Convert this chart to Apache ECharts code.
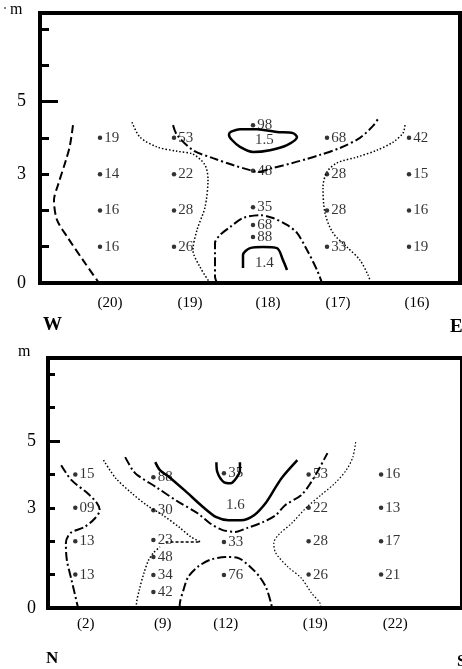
<!DOCTYPE html>
<html>
<head>
<meta charset="utf-8">
<script src="https://cdn.jsdelivr.net/npm/echarts@6/dist/echarts.min.js"></script>
<style>
html, body { margin: 0; padding: 0; background: #fff; }
#chart { width: 462px; height: 669px; }
</style>
</head>
<body>
<div id="chart"></div>
<script>
// two cross sections (W-E above, N-S below); x = distance along section, y = depth in m
const topTickPos = [70, 150, 228, 298, 377]
const topTickText = ['(20)', '(19)', '(18)', '(17)', '(16)']
const botTickPos = [40, 122, 189, 284, 369]
const botTickText = ['(2)', '(9)', '(12)', '(19)', '(22)']
const yLabelVals = [0, 3, 5]
const yTickVals = [1, 2, 3, 4, 5, 6, 7]

const depthRows = [4, 3, 2, 1]

// upper section samples
const topStationX = [60, 134, 213, 287, 369]
const topSt20 = [0.19, 0.14, 0.16, 0.16]
const topSt19 = [0.53, 0.22, 0.28, 0.26]
const topSt18Depth = [4.35, 3.94, 3.09, 2.09, 1.60, 1.27, 0.55]
const topSt18 = [0.98, 1.5, 0.48, 0.35, 0.68, 0.88, 1.4]
const topSt17 = [0.68, 0.28, 0.28, 0.33]
const topSt16 = [0.42, 0.15, 0.16, 0.19]

// lower section samples
const botStationX = [29, 112, 187, 277, 354]
const botSt2 = [0.15, 0.09, 0.13, 0.13]
const botSt9Depth = [3.92, 2.93, 2.04, 1.53, 0.99, 0.48]
const botSt9 = [0.88, 0.30, 0.23, 0.48, 0.34, 0.42]
const botSt12Depth = [4.04, 3.08, 1.98, 0.99]
const botSt12 = [0.35, 1.6, 0.33, 0.76]
const botSt19 = [0.53, 0.22, 0.28, 0.26]
const botSt22 = [0.16, 0.13, 0.17, 0.21]

// isolines, upper section
const topDashLeft = [[33,4.35],[30,3.80],[26,3.39],[18,2.70],[14,2.29],[17,1.74],[28,1.24],[43,0.63],[59,0]]
const topDotLeft = [[92,4.43],[100,4.02],[117,3.75],[137,3.63],[153,3.55],[165,3.25],[168,2.84],[165,2.09],[157,1.46],[153,0.91],[160,0.44],[170,0]]
const topDashDotUpper = [[133,4.35],[137,4.08],[153,3.66],[173,3.44],[193,3.25],[210,3.11],[217,3.06],[233,3.17],[253,3.31],[267,3.42],[280,3.53],[300,3.72],[320,4.00],[333,4.33],[338,4.52]]
const topDotRight = [[365,4.35],[363,4.13],[353,3.88],[337,3.66],[317,3.47],[297,3.31],[287,3.06],[283,2.64],[285,1.93],[293,1.38],[307,0.99],[320,0.63],[328,0.22],[331,0]]
const topLoop = [[190,4.16],[200,4.24],[217,4.24],[237,4.16],[253,4.13],[257,4.02],[247,3.80],[230,3.66],[213,3.61],[200,3.75],[192,3.94],[189,4.08],[190,4.16]]
const topArchLower = [[177,0],[175,0.17],[175,1.10],[180,1.32],[190,1.54],[203,1.79],[220,1.87],[233,1.79],[247,1.60],[257,1.38],[267,0.91],[277,0.36],[282,0]]
const topArchInner = [[203,0.41],[203,0.77],[210,0.96],[223,0.99],[237,0.96],[243,0.63],[247,0.36]]

// isolines, lower section
const botDashDotLeft = [[14,4.28],[25,3.83],[42,3.44],[52,3.14],[55,2.93],[50,2.69],[39,2.43],[24,2.25],[19,1.95],[20,1.44],[25,0.84],[32,0]]
const botDotUpper = [[59,4.43],[72,3.89],[89,3.44],[105,3.08],[122,2.78],[139,2.43],[152,2.13],[162,1.98]]
const botArrow = [[125,1.98],[162,1.98]]
const botDashDotMid = [[82,4.52],[90,4.13],[95,3.98],[115,3.62],[139,3.17],[159,2.84],[172,2.54],[185,2.34],[199,2.28],[212,2.40],[229,2.58],[242,2.78],[252,3.08],[269,3.38],[279,3.74],[289,4.22],[297,4.64]]
const botSolidMid = [[114,4.37],[119,4.13],[129,3.92],[145,3.53],[165,3.02],[179,2.72],[192,2.63],[205,2.63],[219,2.78],[232,3.17],[242,3.62],[249,3.92],[265,4.43]]
const botCup = [[179,4.37],[180,4.07],[187,3.77],[194,3.74],[200,3.89],[204,4.13],[204,4.37]]
const botDotRight = [[327,4.97],[324,4.52],[317,4.13],[305,3.74],[290,3.38],[275,3.02],[259,2.54],[245,2.19],[240,1.95],[242,1.65],[255,1.23],[269,0.90],[280,0.45],[289,0.15],[290,0]]
const botArchLower = [[140,0],[140,0.09],[144,0.54],[149,0.93],[159,1.23],[172,1.44],[189,1.53],[202,1.50],[215,1.23],[225,0.93],[232,0.60],[237,0.15],[238,0]]
const botDotLower = [[94,0],[94,0.09],[97,0.54],[102,1.05],[107,1.44],[112,1.65],[119,1.83]]

const serif = '"Liberation Serif", "DejaVu Serif", serif'
const ink = '#000'

const station = (x, depths, vals) => vals.map((v, i) => [x, depths[i], v])
const fmt = (v) => v >= 1 ? v.toFixed(1) : String(Math.round(v * 100)).padStart(2, '0')

const DASH = [8, 4]
const DOT = [1.5, 2]
const DASHDOT = [9, 3, 2, 3]

const iso = (grid, pts, type, width) => ({
  type: 'line',
  xAxisIndex: grid,
  yAxisIndex: grid * 2,
  data: pts,
  symbol: 'none',
  smooth: 0.3,
  silent: true,
  lineStyle: { color: ink, width: width, type: type }
})

const samples = (grid, data) => ({
  type: 'scatter',
  xAxisIndex: grid,
  yAxisIndex: grid * 2,
  data: data,
  symbol: 'circle',
  symbolSize: (val) => val[2] >= 1 ? 0 : 4.5,
  itemStyle: { color: ink },
  silent: true,
  z: 5,
  label: {
    show: true,
    position: 'right',
    distance: 2,
    formatter: (p) => fmt(p.value[2]),
    fontFamily: serif,
    fontSize: 15,
    color: ink
  }
})

const topData = [].concat(
  station(topStationX[0], depthRows, topSt20),
  station(topStationX[1], depthRows, topSt19),
  station(topStationX[2], topSt18Depth, topSt18),
  station(topStationX[3], depthRows, topSt17),
  station(topStationX[4], depthRows, topSt16)
)
const botData = [].concat(
  station(botStationX[0], depthRows, botSt2),
  station(botStationX[1], botSt9Depth, botSt9),
  station(botStationX[2], botSt12Depth, botSt12),
  station(botStationX[3], depthRows, botSt19),
  station(botStationX[4], depthRows, botSt22)
)

const xAx = (grid, max, pos, text, margin) => ({
  type: 'value',
  gridIndex: grid,
  min: 0,
  max: max,
  axisLine: { show: false },
  axisTick: { show: false },
  splitLine: { show: false },
  axisLabel: {
    customValues: pos,
    formatter: (v) => text[pos.indexOf(v)],
    fontFamily: serif,
    fontSize: 15,
    color: ink,
    margin: margin
  }
})

const yAx = (grid, max, margin, tickLen) => ({
  type: 'value',
  gridIndex: grid,
  position: 'left',
  min: 0,
  max: max,
  axisLine: { show: false },
  splitLine: { show: false },
  axisTick: { show: true, inside: true, length: tickLen, customValues: yTickVals, lineStyle: { color: ink, width: 3 } },
  axisLabel: { customValues: yLabelVals, fontFamily: serif, fontSize: 18, color: ink, margin: margin }
})

const yLong = (grid, max, tickLen) => ({
  type: 'value',
  gridIndex: grid,
  position: 'left',
  min: 0,
  max: max,
  axisLine: { show: false },
  splitLine: { show: false },
  axisLabel: { show: false },
  axisTick: { show: true, inside: true, length: tickLen, customValues: [5], lineStyle: { color: ink, width: 3 } }
})

const chart = echarts.init(document.getElementById('chart'))

const option = {
  backgroundColor: '#fff',
  animation: false,
  grid: [
    { left: 40, top: 13, width: 420, height: 270, show: true, borderWidth: 4, borderColor: ink },
    { left: 48, top: 358, width: 440, height: 250, show: true, borderWidth: 4, borderColor: ink }
  ],
  xAxis: [
    xAx(0, 420, topTickPos, topTickText, 13),
    xAx(1, 440, botTickPos, botTickText, 9)
  ],
  yAxis: [
    yAx(0, 7.44, 14, 9),
    yLong(0, 7.44, 18),
    yAx(1, 7.49, 12, 7),
    yLong(1, 7.49, 12)
  ],
  graphic: [
    { type: 'circle', shape: { cx: 5, cy: 8, r: 1 }, style: { fill: '#555' } },
    { type: 'text', x: 10, y: 10, style: { text: 'm', font: '16px ' + serif, fill: ink, verticalAlign: 'middle' } },
    { type: 'text', x: 43, y: 325, style: { text: 'W', font: 'bold 19px ' + serif, fill: ink, verticalAlign: 'middle' } },
    { type: 'text', x: 450, y: 327, style: { text: 'E', font: 'bold 19px ' + serif, fill: ink, verticalAlign: 'middle' } },
    { type: 'text', x: 18, y: 352, style: { text: 'm', font: '16px ' + serif, fill: ink, verticalAlign: 'middle' } },
    { type: 'text', x: 46, y: 659, style: { text: 'N', font: 'bold 17px ' + serif, fill: ink, verticalAlign: 'middle' } },
    { type: 'text', x: 457, y: 662, style: { text: 'S', font: 'bold 17px ' + serif, fill: ink, verticalAlign: 'middle' } }
  ],
  series: [
    iso(0, topDashLeft, DASH, 2),
    iso(0, topDotLeft, DOT, 1.5),
    iso(0, topDashDotUpper, DASHDOT, 2),
    iso(0, topDotRight, DOT, 1.5),
    iso(0, topLoop, 'solid', 2.5),
    iso(0, topArchLower, DASHDOT, 2),
    iso(0, topArchInner, 'solid', 2.5),
    samples(0, topData),

    iso(1, botDashDotLeft, DASHDOT, 2),
    iso(1, botDotUpper, DOT, 1.5),
    iso(1, botArrow, [3, 2], 1.5),
    iso(1, botDashDotMid, DASHDOT, 2),
    iso(1, botSolidMid, 'solid', 2.5),
    iso(1, botCup, 'solid', 2.5),
    iso(1, botDotRight, DOT, 1.2),
    iso(1, botArchLower, DASHDOT, 2),
    iso(1, botDotLower, DOT, 1.5),
    samples(1, botData)
  ]
}

chart.setOption(option)
</script>
</body>
</html>
